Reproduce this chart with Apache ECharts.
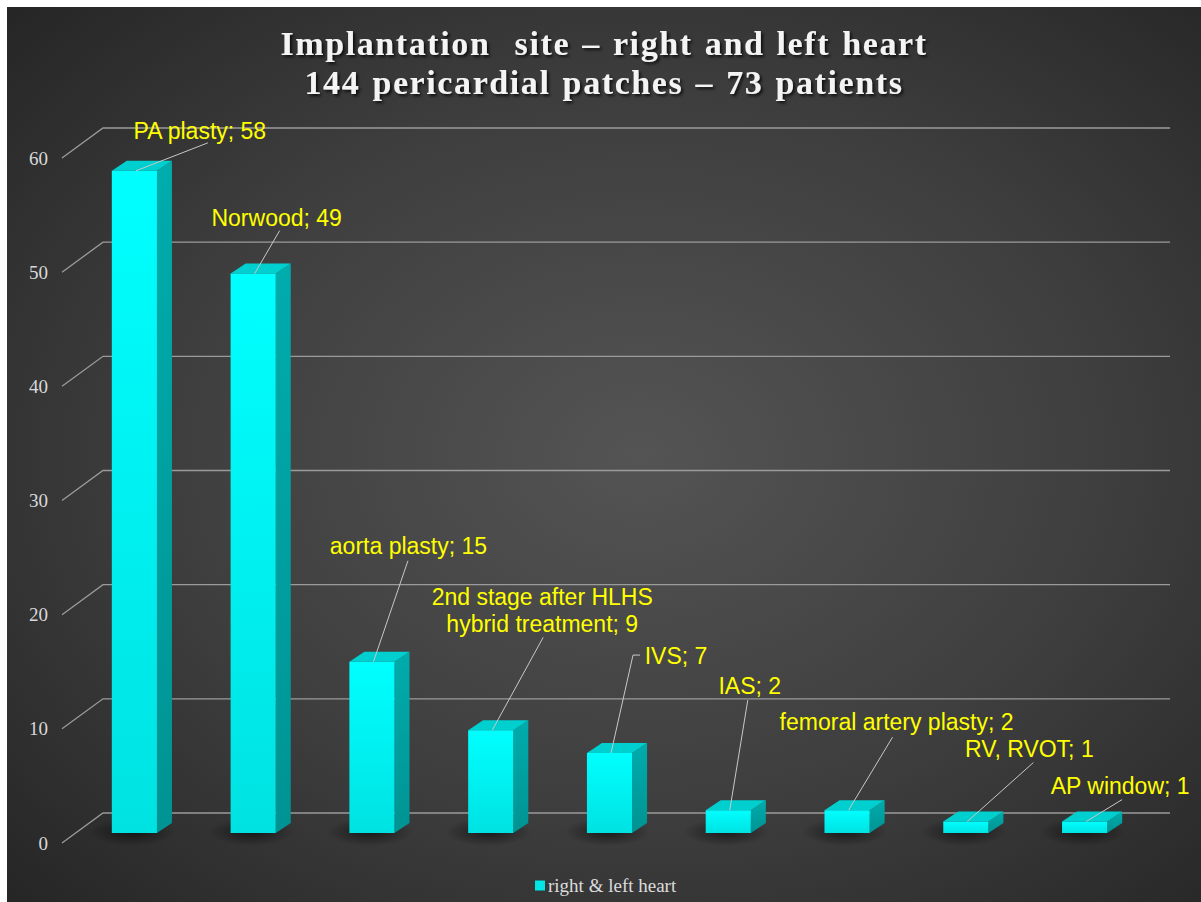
<!DOCTYPE html>
<html>
<head>
<meta charset="utf-8">
<script src="https://cdn.jsdelivr.net/npm/echarts@6/dist/echarts.min.js"></script>
<style>
  html, body { margin: 0; padding: 0; background: #ffffff; }
  #chart { position: absolute; left: 7px; top: 7px; width: 1194px; height: 895px; }
  /* wide tracking for the two-line heading */
  #chart text[style*="34px"] { letter-spacing: 1.6px; word-spacing: 2px; }
</style>
</head>
<body>
<div id="chart"></div>
<script>
// ---- data ----
const categories = [
  'PA plasty',
  'Norwood',
  'aorta plasty',
  '2nd stage after HLHS\nhybrid treatment',
  'IVS',
  'IAS',
  'femoral artery plasty',
  'RV, RVOT',
  'AP window'
];
const patchCounts = [58, 49, 15, 9, 7, 2, 2, 1, 1];
const yTicks = [0, 10, 20, 30, 40, 50, 60];
const seriesName = 'right & left heart';
const titleText = 'Implantation  site – right and left heart\n144 pericardial patches – 73 patients';

// ---- callout placement (pixel offsets from the centre of each bar's top face) ----
const calloutLayout = [
  { label: [58, -35],  path: [[66, -23]] },
  { label: [16, -51],  path: [[19, -38]] },
  { label: [29, -111], path: [[28.5, -96]] },
  { label: [44, -115], path: [[45, -88]] },
  { label: [59, -92],  path: [[16, -93], [23, -93]] },
  { label: [14, -119], path: [[12, -105]] },
  { label: [42, -83],  path: [[38, -68]] },
  { label: [56, -68],  path: [[60, -54]] },
  { label: [28, -31],  path: [[30, -17]] }
];

// pseudo-3D geometry
const LIFT = 10;        // bar front plane sits above the front axis plane
const DEPTH_X = 15;     // bar depth projection
const DEPTH_Y = -10;
const WALL_X = 41;      // floor depth from front axis to back wall
const WALL_Y = -30;

const chart = echarts.init(document.getElementById('chart'), null, { renderer: 'svg' });

function renderGridLine(params, api) {
  const cs = params.coordSys;
  const y = api.coord([0, api.value(1)])[1];
  const fx = cs.x - 13;
  return {
    type: 'polyline',
    shape: { points: [[fx, y], [fx + WALL_X, y + WALL_Y], [cs.x + cs.width + 26, y + WALL_Y]] },
    style: { stroke: '#9b9b9b', lineWidth: 1.3, fill: null },
    silent: true
  };
}

function renderBar(params, api) {
  const idx = api.value(0);
  const val = api.value(1);
  const top = api.coord([idx, val]);
  const base = api.coord([idx, 0]);
  const bw = api.size([1, 0])[0] * 0.38;
  const x0 = top[0] - bw / 2, x1 = top[0] + bw / 2;
  const yT = top[1] - LIFT, yB = base[1] - LIFT;

  const shadow = {
    type: 'ellipse',
    shape: { cx: x0 + bw * 0.45, cy: yB - 1, rx: bw * 0.95, ry: 14 },
    style: {
      fill: new echarts.graphic.RadialGradient(0.5, 0.5, 0.5, [
        { offset: 0, color: 'rgba(0,0,0,0.55)' },
        { offset: 1, color: 'rgba(0,0,0,0)' }
      ])
    },
    silent: true
  };
  const side = {
    type: 'polygon',
    shape: { points: [[x1, yT], [x1 + DEPTH_X, yT + DEPTH_Y], [x1 + DEPTH_X, yB + DEPTH_Y], [x1, yB]] },
    style: {
      fill: new echarts.graphic.LinearGradient(0, 0, 0, 1, [
        { offset: 0, color: '#00acac' },
        { offset: 1, color: '#009393' }
      ])
    }
  };
  const topFace = {
    type: 'polygon',
    shape: { points: [[x0, yT], [x0 + DEPTH_X, yT + DEPTH_Y], [x1 + DEPTH_X, yT + DEPTH_Y], [x1, yT]] },
    style: { fill: '#00cfcf' }
  };
  const front = {
    type: 'rect',
    shape: { x: x0, y: yT, width: bw, height: yB - yT },
    style: {
      fill: new echarts.graphic.LinearGradient(0, 0, 0, 1, [
        { offset: 0, color: '#00ffff' },
        { offset: 1, color: '#00e2e2' }
      ])
    }
  };

  // callout: leader line + yellow label
  const cx = top[0] + DEPTH_X / 2, cy = yT + DEPTH_Y / 2;
  const lay = calloutLayout[idx];
  const pts = [[cx - 6, cy + 5]].concat(lay.path.map(p => [cx + p[0], cy + p[1]]));
  const leader = {
    type: 'polyline',
    shape: { points: pts },
    style: { stroke: '#c8c8c8', lineWidth: 1, fill: null },
    silent: true
  };
  const label = {
    type: 'text',
    x: cx + lay.label[0],
    y: cy + lay.label[1],
    style: {
      text: categories[idx] + '; ' + val,
      fill: '#ffff00',
      fontSize: 23,
      fontFamily: 'Liberation Sans, Arial, sans-serif',
      align: 'center',
      verticalAlign: 'middle',
      lineHeight: 26.5
    },
    silent: true
  };

  return { type: 'group', children: [shadow, side, topFace, front, leader, label] };
}

chart.setOption({
  backgroundColor: {
    type: 'radial', x: 0.53, y: 0.5, r: 0.72,
    colorStops: [
      { offset: 0, color: '#545454' },
      { offset: 0.55, color: '#3e3e3e' },
      { offset: 1, color: '#262626' }
    ]
  },
  animation: false,
  title: {
    text: titleText,
    left: 'center',
    top: 12,
    textStyle: {
      fontFamily: 'Liberation Serif, Times New Roman, serif',
      fontWeight: 'bold',
      fontSize: 34,
      lineHeight: 39,
      color: '#f4f4f4',
      textShadowColor: 'rgba(0,0,0,0.75)',
      textShadowBlur: 3,
      textShadowOffsetX: 2,
      textShadowOffsetY: 2
    }
  },
  legend: {
    data: [seriesName],
    left: 523,
    top: 864,
    icon: 'rect',
    itemWidth: 10,
    itemHeight: 10,
    textStyle: {
      fontFamily: 'Liberation Serif, Times New Roman, serif',
      fontSize: 19,
      color: '#dcdcdc',
      padding: [0, 0, 0, -2]
    }
  },
  grid: { left: 68, right: 57, top: 151, bottom: 59 },
  xAxis: {
    type: 'category',
    data: categories,
    axisLine: { show: false },
    axisTick: { show: false },
    axisLabel: { show: false },
    splitLine: { show: false }
  },
  yAxis: {
    type: 'value',
    min: 0,
    max: 60,
    interval: 10,
    axisLine: { show: false },
    axisTick: { show: false },
    splitLine: { show: false },
    axisLabel: {
      margin: 27,
      fontFamily: 'Liberation Serif, Times New Roman, serif',
      fontSize: 19,
      color: '#d9d9d9',
      formatter: v => (yTicks.indexOf(v) >= 0 ? String(v) : '')
    }
  },
  series: [
    {
      name: 'walls',
      type: 'custom',
      z: 1,
      silent: true,
      renderItem: renderGridLine,
      data: yTicks.map(t => [0, t])
    },
    {
      name: seriesName,
      type: 'custom',
      z: 2,
      itemStyle: { color: '#00e5e5' },
      renderItem: renderBar,
      data: patchCounts.map((v, i) => [i, v])
    }
  ]
});
</script>
</body>
</html>
